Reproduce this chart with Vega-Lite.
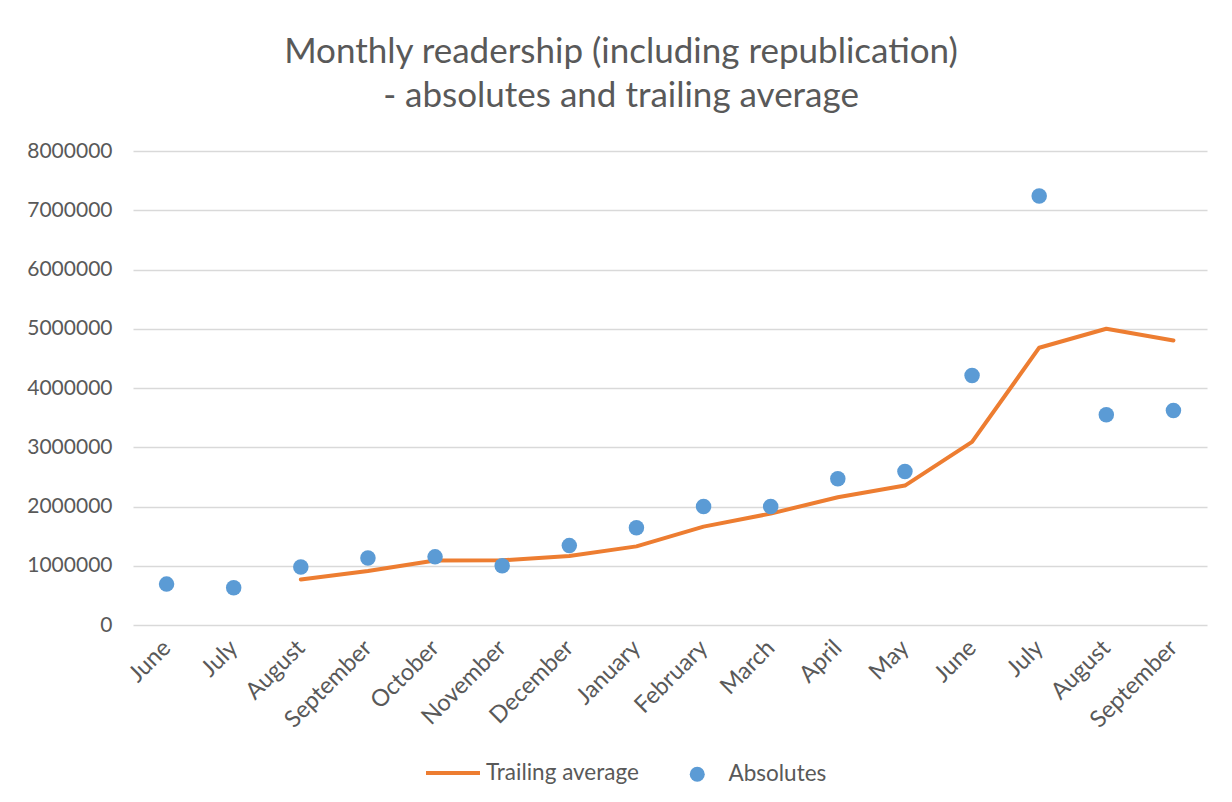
{
  "$schema": "https://vega.github.io/schema/vega-lite/v6.json",
  "autosize": "none",
  "width": 1074,
  "height": 474,
  "padding": {"left": 133, "top": 151, "right": 25, "bottom": 177},
  "background": "white",
  "title": {
    "text": ["Monthly readership (including republication)", "- absolutes and trailing average"],
    "anchor": "middle",
    "frame": "group",
    "dx": -49,
    "offset": 26,
    "font": "Lato",
    "fontSize": 35,
    "fontWeight": "normal",
    "color": "#595959",
    "lineHeight": 44
  },
  "data": {
    "values": [
      {"period": "June 2016", "absolutes": 690000, "trailing": null},
      {"period": "July 2016", "absolutes": 630000, "trailing": null},
      {"period": "August 2016", "absolutes": 980000, "trailing": 767000},
      {"period": "September 2016", "absolutes": 1130000, "trailing": 913000},
      {"period": "October 2016", "absolutes": 1150000, "trailing": 1087000},
      {"period": "November 2016", "absolutes": 1000000, "trailing": 1093000},
      {"period": "December 2016", "absolutes": 1340000, "trailing": 1163000},
      {"period": "January 2017", "absolutes": 1640000, "trailing": 1327000},
      {"period": "February 2017", "absolutes": 2000000, "trailing": 1660000},
      {"period": "March 2017", "absolutes": 2000000, "trailing": 1880000},
      {"period": "April 2017", "absolutes": 2470000, "trailing": 2157000},
      {"period": "May 2017", "absolutes": 2590000, "trailing": 2353000},
      {"period": "June 2017", "absolutes": 4210000, "trailing": 3090000},
      {"period": "July 2017", "absolutes": 7240000, "trailing": 4680000},
      {"period": "August 2017", "absolutes": 3550000, "trailing": 5000000},
      {"period": "September 2017", "absolutes": 3620000, "trailing": 4803000}
    ]
  },
  "encoding": {
    "x": {
      "field": "period",
      "type": "ordinal",
      "sort": null,
      "scale": {"type": "point", "padding": 0.5},
      "axis": {
        "title": null,
        "labelExpr": "split(datum.label, ' ')[0]",
        "labelAngle": -45,
        "labelAlign": "right",
        "labelBaseline": "middle",
        "labelPadding": 19,
        "labelFont": "Lato",
        "labelFontSize": 23.5,
        "labelColor": "#595959",
        "ticks": false,
        "domain": false,
        "grid": false
      }
    }
  },
  "layer": [
    {
      "mark": {"type": "line", "strokeWidth": 4, "strokeCap": "round", "strokeJoin": "round"},
      "encoding": {
        "y": {
          "field": "trailing",
          "type": "quantitative",
          "scale": {"domain": [0, 8000000], "nice": false},
          "axis": {
            "title": null,
            "values": [0, 1000000, 2000000, 3000000, 4000000, 5000000, 6000000, 7000000, 8000000],
            "format": "d",
            "labelOverlap": false,
            "labelFont": "Lato",
            "labelFontSize": 21,
            "labelColor": "#595959",
            "labelPadding": 21,
            "ticks": false,
            "domain": false,
            "grid": true,
            "gridColor": "#D9D9D9",
            "gridWidth": 1.3
          }
        },
        "color": {
          "datum": "Trailing average",
          "scale": {"range": ["#ED7D31"]},
          "legend": {
            "title": null,
            "orient": "none",
            "legendX": 291,
            "legendY": 593,
            "symbolType": "stroke",
            "symbolSize": 2916,
            "symbolStrokeWidth": 4,
            "labelOffset": 4,
            "labelFont": "Lato",
            "labelFontSize": 22.5,
            "labelColor": "#595959"
          }
        }
      }
    },
    {
      "mark": {"type": "point", "filled": true, "color": "#5B9BD5", "opacity": 1, "size": 240},
      "encoding": {
        "y": {
          "field": "absolutes",
          "type": "quantitative",
          "axis": {
            "title": null,
            "values": [0, 1000000, 2000000, 3000000, 4000000, 5000000, 6000000, 7000000, 8000000],
            "format": "d",
            "labelOverlap": false,
            "labelFont": "Lato",
            "labelFontSize": 21,
            "labelColor": "#595959",
            "labelPadding": 21,
            "ticks": false,
            "domain": false,
            "grid": true,
            "gridColor": "#D9D9D9",
            "gridWidth": 1.3
          }
        },
        "shape": {
          "datum": "Absolutes",
          "scale": {"range": ["circle"]},
          "legend": {
            "title": null,
            "orient": "none",
            "legendX": 553,
            "legendY": 612,
            "symbolSize": 225,
            "symbolFillColor": "#5B9BD5",
            "symbolStrokeWidth": 0,
            "symbolOpacity": 1,
            "labelOffset": 20,
            "labelFont": "Lato",
            "labelFontSize": 22.5,
            "labelColor": "#595959"
          }
        }
      }
    }
  ],
  "config": {"view": {"stroke": null}}
}
